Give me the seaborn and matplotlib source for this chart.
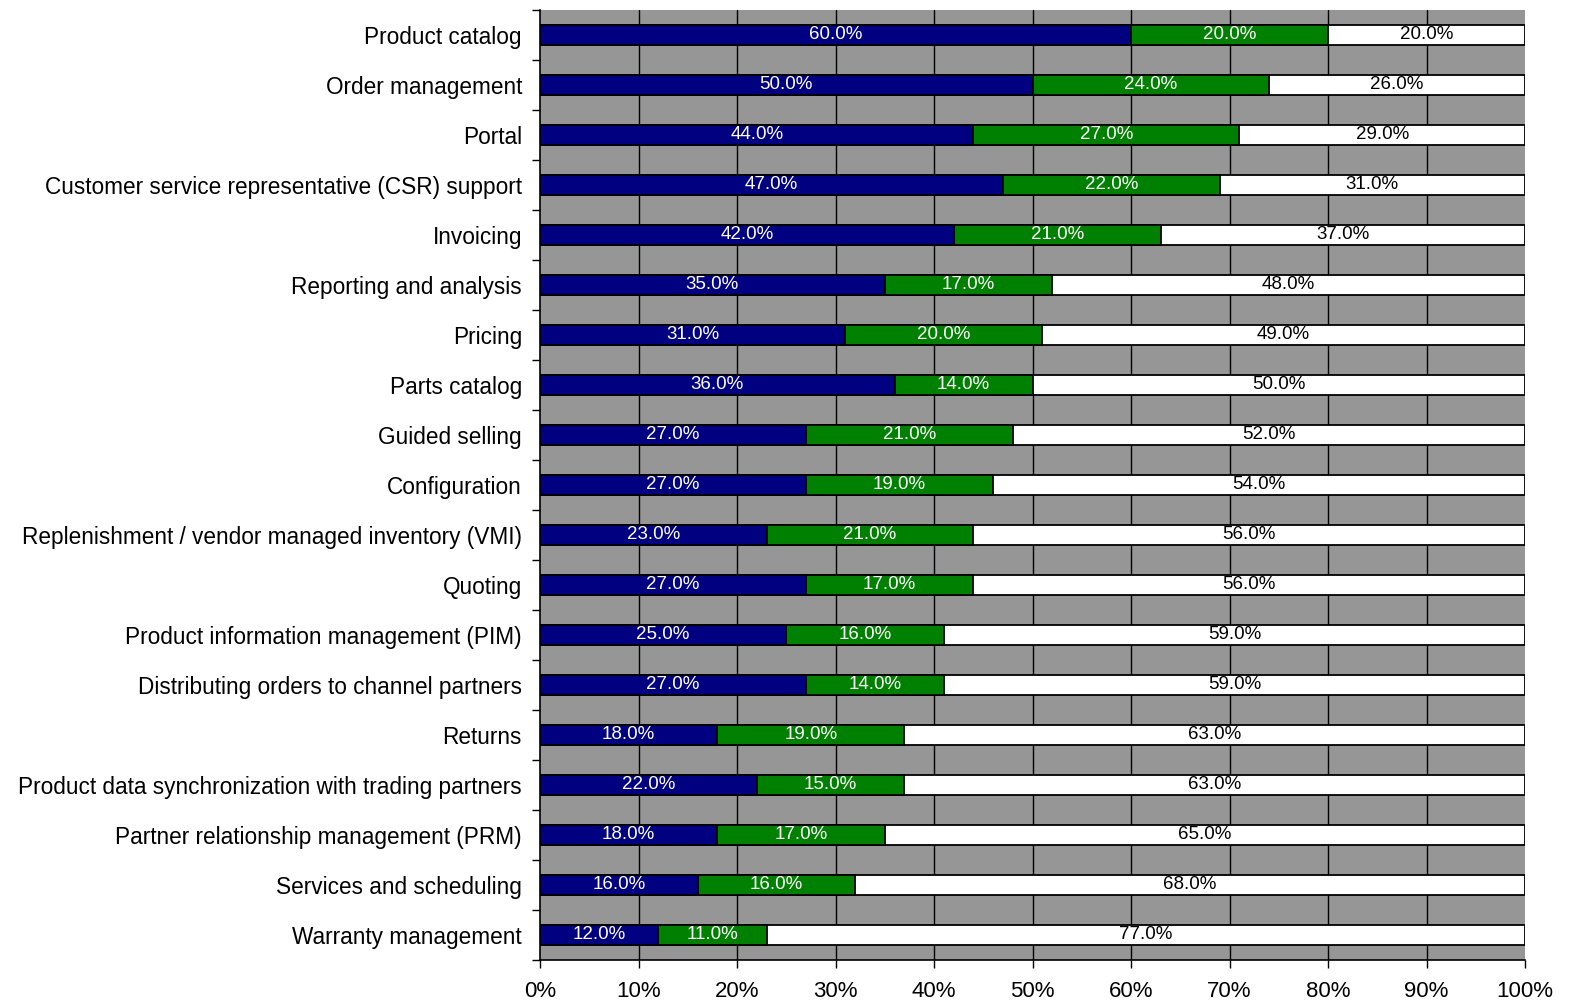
import matplotlib
matplotlib.use("Agg")
import matplotlib.pyplot as plt
import seaborn as sns
import numpy as np
import pandas as pd

categories = [
    "Product catalog",
    "Order management",
    "Portal",
    "Customer service representative (CSR) support",
    "Invoicing",
    "Reporting and analysis",
    "Pricing",
    "Parts catalog",
    "Guided selling",
    "Configuration",
    "Replenishment / vendor managed inventory (VMI)",
    "Quoting",
    "Product information management (PIM)",
    "Distributing orders to channel partners",
    "Returns",
    "Product data synchronization with trading partners",
    "Partner relationship management (PRM)",
    "Services and scheduling",
    "Warranty management",
]
series_a = [60, 50, 44, 47, 42, 35, 31, 36, 27, 27, 23, 27, 25, 27, 18, 22, 18, 16, 12]
series_b = [20, 24, 27, 22, 21, 17, 20, 14, 21, 19, 21, 17, 16, 14, 19, 15, 17, 16, 11]
series_c = [20, 26, 29, 31, 37, 48, 49, 50, 52, 54, 56, 56, 59, 59, 63, 63, 65, 68, 77]
x_ticks = [0, 10, 20, 30, 40, 50, 60, 70, 80, 90, 100]

sns.set_theme(style="white")
plt.rcParams["font.family"] = ["Liberation Sans", "DejaVu Sans"]
plt.rcParams["text.color"] = "black"
plt.rcParams["xtick.color"] = "black"
plt.rcParams["ytick.color"] = "black"

df = pd.DataFrame({"cat": categories, "a": series_a, "b": series_b, "c": series_c})
df["ab"] = df["a"] + df["b"]
df["abc"] = df["ab"] + df["c"]

W, H = 1569, 1002
fig = plt.figure(figsize=(W / 100, H / 100), dpi=100)
ax = fig.add_axes([540 / W, 1 - 960 / H, (1525 - 540) / W, (960 - 10) / H])
ax.set_facecolor("#969696")

# vertical grid lines
for v in x_ticks[1:-1]:
    ax.axvline(v, color="black", lw=1.0, zorder=0.5)

bar_kw = dict(orient="h", width=0.4, edgecolor="black", linewidth=1.3, ax=ax)
sns.barplot(data=df, x="abc", y="cat", color="white", saturation=1, zorder=2, **bar_kw)
sns.barplot(data=df, x="ab", y="cat", color="#008000", saturation=1, zorder=3, **bar_kw)
sns.barplot(data=df, x="a", y="cat", color="#000080", saturation=1, zorder=4, **bar_kw)

# segment value labels
for i, row in df.iterrows():
    segs = [(0, row["a"], "white"), (row["a"], row["b"], "white"), (row["ab"], row["c"], "black")]
    for start, val, col in segs:
        ax.text(start + val / 2, i - 0.01, f"{val:.1f}%", ha="center", va="center",
                color=col, fontsize=13.5, zorder=5)

ax.set_xlim(0, 100)
ax.set_ylim(len(categories) - 0.5, -0.5)
ax.set_xlabel("")
ax.set_ylabel("")

ax.set_xticks(x_ticks)
ax.set_xticklabels([f"{t}%" for t in x_ticks], fontsize=16)
ax.tick_params(axis="x", direction="out", length=6, width=1, colors="black", pad=9, bottom=True)

ax.set_yticks(range(len(categories)))
ax.set_yticklabels(categories, fontsize=16.3)
ax.tick_params(axis="y", which="major", length=0, pad=13, labelcolor="black")
ax.set_yticks(np.arange(-0.5, len(categories), 1.0), minor=True)
ax.tick_params(axis="y", which="minor", direction="out", length=6, width=1, color="black", left=True)

for s in ["top", "right"]:
    ax.spines[s].set_visible(False)
for s in ["left", "bottom"]:
    ax.spines[s].set_visible(True)
    ax.spines[s].set_color("black")
    ax.spines[s].set_linewidth(1.2)

fig.savefig("out.png", dpi=100, facecolor="white")
